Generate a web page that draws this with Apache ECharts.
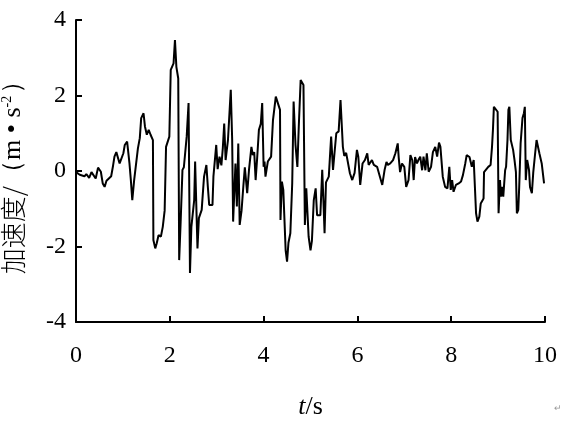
<!DOCTYPE html>
<html>
<head>
<meta charset="utf-8">
<script src="https://cdn.jsdelivr.net/npm/echarts@6/dist/echarts.min.js"></script>
<style>html,body{margin:0;padding:0;background:#fff;}#c{width:564px;height:421px;}</style>
</head>
<body>
<div id="c"></div>
<script>
var times = [0.00,0.04,0.08,0.12,0.18,0.22,0.28,0.33,0.37,0.42,0.47,0.50,0.53,0.57,0.61,0.65,0.70,0.75,0.79,0.82,0.86,0.89,0.93,0.97,1.01,1.04,1.09,1.12,1.14,1.17,1.20,1.24,1.28,1.32,1.36,1.39,1.44,1.47,1.51,1.55,1.59,1.64,1.65,1.69,1.72,1.76,1.81,1.85,1.89,1.92,1.99,2.02,2.08,2.11,2.14,2.18,2.20,2.23,2.27,2.30,2.36,2.40,2.43,2.46,2.52,2.54,2.59,2.62,2.68,2.73,2.78,2.81,2.84,2.91,2.93,2.99,3.02,3.06,3.10,3.13,3.16,3.19,3.24,3.30,3.33,3.35,3.40,3.43,3.46,3.49,3.53,3.57,3.60,3.65,3.69,3.74,3.77,3.80,3.83,3.86,3.90,3.94,3.97,4.00,4.02,4.04,4.09,4.16,4.20,4.26,4.29,4.35,4.36,4.39,4.42,4.47,4.50,4.53,4.57,4.61,4.64,4.68,4.72,4.75,4.79,4.81,4.85,4.88,4.90,4.91,4.96,5.00,5.03,5.07,5.11,5.14,5.21,5.25,5.28,5.30,5.33,5.39,5.44,5.48,5.51,5.55,5.60,5.64,5.67,5.69,5.72,5.76,5.84,5.89,5.94,5.99,6.02,6.06,6.11,6.16,6.21,6.24,6.28,6.31,6.35,6.42,6.48,6.53,6.58,6.62,6.65,6.70,6.76,6.81,6.86,6.88,6.91,6.95,7.00,7.04,7.09,7.13,7.17,7.20,7.23,7.27,7.30,7.34,7.38,7.41,7.45,7.48,7.52,7.57,7.61,7.66,7.70,7.74,7.77,7.82,7.87,7.92,7.96,7.99,8.02,8.05,8.10,8.16,8.21,8.25,8.30,8.33,8.39,8.44,8.48,8.51,8.53,8.56,8.60,8.63,8.69,8.70,8.74,8.79,8.84,8.87,8.89,8.91,8.95,8.99,9.01,9.04,9.06,9.08,9.11,9.15,9.17,9.20,9.22,9.24,9.27,9.32,9.35,9.38,9.40,9.43,9.45,9.48,9.52,9.55,9.57,9.59,9.62,9.66,9.68,9.72,9.75,9.79,9.82,9.86,9.88,9.93,9.98];
var accel = [-0.03,-0.02,-0.10,-0.06,-0.14,-0.08,-0.18,-0.03,0.00,-0.20,0.09,0.14,-0.02,-0.33,-0.42,-0.26,-0.20,-0.14,0.14,0.38,0.50,0.45,0.20,0.15,0.47,0.69,0.78,0.78,0.20,-0.25,-0.77,-0.24,-0.24,0.60,0.87,1.40,1.53,1.18,0.96,1.09,0.96,0.82,-1.83,-2.05,-1.92,-1.70,-1.74,-1.48,-1.05,0.64,0.91,2.68,2.85,3.47,2.76,2.45,-2.36,-1.39,0.03,0.10,0.91,1.80,-2.70,-1.48,-0.77,0.25,-2.05,-1.25,-1.03,-0.15,0.16,-0.40,-0.90,-0.90,-0.15,0.69,0.05,0.38,0.15,0.60,1.26,0.29,0.82,2.15,0.82,-1.34,0.20,-0.94,0.73,-1.43,-1.05,-0.37,0.10,-0.59,0.05,0.64,0.42,0.50,-0.24,0.29,1.09,1.25,1.80,0.11,0.25,-0.15,0.25,0.38,1.35,1.97,1.95,1.62,-1.30,-0.28,-0.50,-2.10,-2.40,-1.90,-1.65,-0.33,1.84,0.70,0.11,1.18,2.41,2.45,2.28,-1.43,-0.80,-0.46,-1.74,-2.10,-1.85,-0.77,-0.46,-1.17,-1.17,0.03,-0.94,-1.65,-0.30,-0.15,0.91,0.03,0.45,1.00,1.05,1.88,1.88,0.64,0.40,0.48,-0.06,-0.24,-0.05,0.56,0.37,-0.37,0.20,0.29,0.47,0.16,0.20,0.29,0.16,0.11,-0.15,-0.37,0.03,0.24,0.16,0.20,0.29,0.47,0.73,0.37,-0.03,0.20,0.11,-0.42,-0.24,0.42,0.29,-0.24,0.37,0.20,0.29,0.38,0.02,0.38,0.02,0.47,-0.02,0.11,0.50,0.64,0.38,0.75,0.64,-0.15,-0.42,-0.46,0.11,-0.50,-0.24,-0.55,-0.37,-0.33,-0.28,-0.11,0.20,0.42,0.37,0.11,0.29,0.33,-1.12,-1.34,-1.21,-0.86,-0.73,-0.03,0.02,0.11,0.16,0.64,1.09,1.70,1.70,1.57,-1.12,-0.24,-0.68,-0.42,-0.68,0.02,0.11,0.82,1.62,1.70,0.82,0.56,0.29,-0.03,-1.12,-1.03,-0.42,0.73,1.40,1.53,1.70,-0.24,0.29,0.02,-0.42,-0.59,-0.03,0.47,0.82,0.82,0.47,0.20,-0.33];
var xTicks = {min: 0, max: 10, interval: 2};
var yTicks = {min: -4, max: 4, interval: 2};

var seriesData = times.map(function (t, i) { return [t, accel[i]]; });
var chart = echarts.init(document.getElementById('c'), null, {renderer: 'canvas'});
var serif = '"Liberation Serif", "Times New Roman", serif';
chart.setOption({
  animation: false,
  backgroundColor: '#fff',
  grid: {left: 76, right: 19, top: 20, bottom: 99, containLabel: false, outerBoundsMode: 'none'},
  xAxis: {
    type: 'value', min: xTicks.min, max: xTicks.max, interval: xTicks.interval,
    axisLine: {onZero: false, lineStyle: {color: '#000', width: 2}},
    axisTick: {inside: true, length: 6, lineStyle: {color: '#000', width: 2}},
    splitLine: {show: false},
    axisLabel: {color: '#000', fontFamily: serif, fontSize: 24, margin: 22},
    name: '{i|t}{n|/s}', nameLocation: 'middle', nameGap: 72,
    nameTextStyle: {rich: {
      i: {fontFamily: serif, fontStyle: 'italic', fontSize: 26, color: '#000'},
      n: {fontFamily: serif, fontSize: 26, color: '#000'}
    }}
  },
  yAxis: {
    type: 'value', min: yTicks.min, max: yTicks.max, interval: yTicks.interval,
    axisLine: {onZero: false, lineStyle: {color: '#000', width: 2}},
    axisTick: {inside: true, length: 6, lineStyle: {color: '#000', width: 2}},
    splitLine: {show: false},
    axisLabel: {color: '#000', fontFamily: serif, fontSize: 24, margin: 10},
    name: '{c|加速度/}{p|（m • s}{s|-2}{p|）}', nameLocation: 'middle', nameGap: 50, nameRotate: 90,
    nameTextStyle: {rich: {
      c: {fontFamily: '"Noto Sans CJK SC", sans-serif', fontSize: 26, color: '#000', fontWeight: 300},
      p: {fontFamily: serif, fontSize: 26, color: '#000'},
      s: {fontFamily: serif, fontSize: 14, color: '#000', verticalAlign: 'top', padding: [0, 2, 10, 0]}
    }}
  },
  series: [{
    type: 'line', data: seriesData, showSymbol: false, symbol: 'none',
    lineStyle: {color: '#000', width: 2}, clip: false
  }],
  graphic: [{type: 'text', right: 2, bottom: 8, style: {text: '↵', fontSize: 9, fill: '#999'}}]
});
</script>
</body>
</html>
